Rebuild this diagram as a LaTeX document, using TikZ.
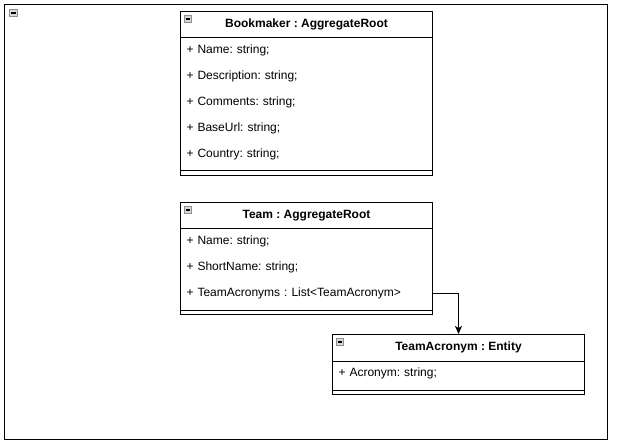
\documentclass[tikz,border=0pt]{standalone}
\usepackage{fontspec}
\setmainfont{Liberation Sans}
\usetikzlibrary{arrows.meta}
\definecolor{iconfill}{HTML}{D8D8D8}
\definecolor{iconline}{HTML}{8A8F9A}
\frenchspacing
\begin{document}
\begin{tikzpicture}[x=1bp,y=-1bp,line width=1bp,
  every node/.style={font=\fontsize{12bp}{14bp}\selectfont},
  box/.style={draw, anchor=north west, minimum width=252bp, inner sep=0pt},
  head/.style={anchor=north west, minimum width=252bp, minimum height=26bp, inner sep=0pt, font=\fontsize{12bp}{14bp}\selectfont\bfseries},
  row/.style={anchor=north west, minimum height=26bp, text width=240bp, inner xsep=6bp, inner ysep=0pt, align=left},
  icon/.style={draw=iconline, fill=iconfill, line width=0.9bp, minimum size=#1, inner sep=0pt, anchor=north west,
    path picture={\draw[line width=1.5bp,black] ([xshift=1.4bp]path picture bounding box.west) -- ([xshift=-1.4bp]path picture bounding box.east);}},
  icon/.default=7bp,
  link/.style={-{Stealth[length=8bp,width=7bp,inset=2bp]}}
]
\useasboundingbox (0,0) rectangle (621,446);

% outer frame
\node[draw, anchor=north west, minimum width=603bp, minimum height=435bp, inner sep=0pt] (frame) at (4,4) {};
\node[icon=7.5bp] (frameicon) at (9,9) {};

% Bookmaker
\node[box, minimum height=164bp] (bk) at (180,11) {};
\node[head] (bkh) at (180,11) {Bookmaker : AggregateRoot};
\node[icon] (bki) at (184,15) {};
\draw (bkh.south west) -- (bkh.south east);
\node[row] (bk1) at (180,37) {+ Name: string;};
\node[row] (bk2) at (180,63) {+ Description: string;};
\node[row] (bk3) at (180,89) {+ Comments: string;};
\node[row] (bk4) at (180,115) {+ BaseUrl: string;};
\node[row] (bk5) at (180,141) {+ Country: string;};
\draw (180,171) -- (432,171);

% Team
\node[box, minimum height=112bp] (tm) at (180,202) {};
\node[head] (tmh) at (180,202) {Team : AggregateRoot};
\node[icon] (tmi) at (184,206) {};
\draw (tmh.south west) -- (tmh.south east);
\node[row] (tm1) at (180,228) {+ Name: string;};
\node[row] (tm2) at (180,254) {+ ShortName: string;};
\node[row] (tm3) at (180,280) {+ TeamAcronyms : List<TeamAcronym>};
\draw (180,310) -- (432,310);

% TeamAcronym
\node[box, minimum height=60bp] (ta) at (332,334) {};
\node[head] (tah) at (332,334) {TeamAcronym : Entity};
\node[icon] (tai) at (336,338) {};
\draw (tah.south west) -- (tah.south east);
\node[row] (ta1) at (332,360) {+ Acronym: string;};
\draw (332,390) -- (584,390);

% connector
\draw[link] (tm3.east) -| (ta.north);
\end{tikzpicture}
\end{document}
